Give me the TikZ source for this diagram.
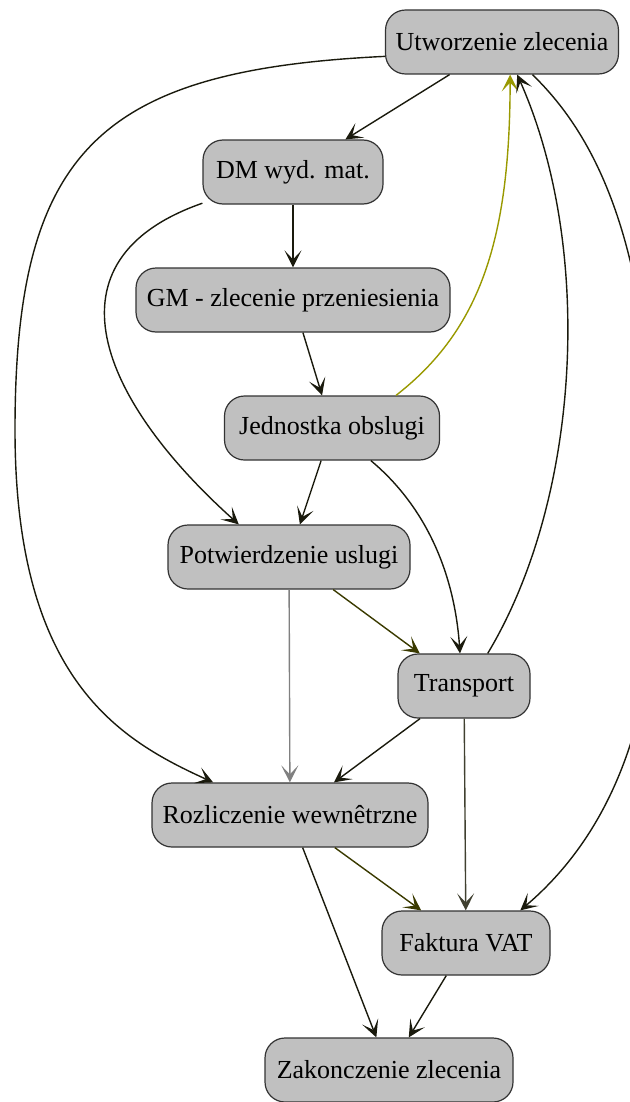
\documentclass[tikz,border=0pt]{standalone}
\usepackage{fontspec}
\setmainfont{Liberation Serif}
\usetikzlibrary{arrows.meta}
\definecolor{boxfill}{HTML}{C0C0C0}
\definecolor{boxline}{HTML}{333333}
\definecolor{edgedark}{HTML}{1A1A0D}
\definecolor{olivine}{HTML}{999900}
\definecolor{darkolive}{HTML}{3A3A00}
\definecolor{grayline}{HTML}{808080}
\definecolor{grayolive}{HTML}{404030}
\begin{document}
\begin{tikzpicture}[x=0.5pt,y=-0.5pt,
        box/.style={draw=boxline, fill=boxfill, rounded corners=10pt, minimum height=32pt,
                inner xsep=5pt, line width=0.6pt, font=\fontsize{13}{15}\selectfont},
        flow/.style={edgedark, line width=0.7pt, -{Stealth[length=8.5pt,width=8.5pt,inset=4.5pt]}}]
        \useasboundingbox (0,0) rectangle (630,1102);
        \node[box, minimum width=115pt] (U) at (502,42) {Utworzenie zlecenia};
        \node[box, minimum width=90pt] (DM) at (293,172) {DM wyd. mat.};
        \node[box, minimum width=157pt] (GM) at (293,300) {GM - zlecenie przeniesienia};
        \node[box, minimum width=107.5pt] (J) at (332,428) {Jednostka obslugi};
        \node[box, minimum width=121pt] (P) at (289,557) {Potwierdzenie uslugi};
        \node[box, minimum width=66pt] (T) at (464,686) {Transport};
        \node[box, minimum width=138pt] (R) at (290,815) {Rozliczenie wewnêtrzne};
        \node[box, minimum width=84pt] (F) at (466,943) {Faktura VAT};
        \node[box, minimum width=124pt] (Z) at (389,1070) {Zakonczenie zlecenia};
        \draw[flow] (U) -- (DM);
        \draw[flow] (U.187) .. controls (100,70) and (15,150) .. (15,430) .. controls (15,680) and (120,740) .. (R.157);
        \draw[flow] (DM) -- (GM);
        \draw[flow] (DM.199) .. controls (40,260) and (100,400) .. (P.147);
        \draw[flow] (GM) -- (J);
        \draw[flow, olivine] (J.27) .. controls (480,330) and (510,240) .. (U.284);
        \draw[flow] (T.54) .. controls (580,500) and (595,250) .. (U.295);
        \draw[flow] (U.313) .. controls (600,140) and (650,250) .. (655,480) .. controls (670,700) and (615,830) .. (F.31);
        \draw[flow] (J) -- (P);
        \draw[flow] (J.320) .. controls (430,510) and (455,580) .. (T.97);
        \draw[flow, darkolive] (P) -- (T);
        \draw[flow, grayline] (P) -- (R);
        \draw[flow] (T) -- (R);
        \draw[flow, grayolive] (T) -- (F);
        \draw[flow, darkolive] (R) -- (F);
        \draw[flow] (R) -- (Z);
        \draw[flow] (F) -- (Z);
\end{tikzpicture}
\end{document}
